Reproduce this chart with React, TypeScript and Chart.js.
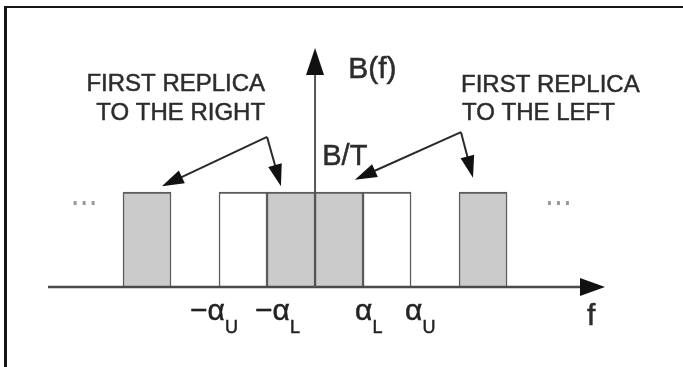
import React, { useEffect, useRef } from 'react';
import { Chart, registerables } from 'chart.js';

Chart.register(...registerables);

// Spectral bands: centre frequency (in band widths), height (B/T = 1) and whether the band is a replica
const bandCenters = [-3.5, -1.5, -0.5, 0.5, 1.5, 3.5];
const bandHeights = [1, 1, 1, 1, 1, 1];
const bandShaded = [true, false, true, true, false, true];

// Band-edge labels on the frequency axis
const edgeValues = [-2, -1, 1, 2];
const edgeSymbols = ['\u2212\u03b1', '\u2212\u03b1', '\u03b1', '\u03b1'];
const edgeSubscripts = ['U', 'L', 'L', 'U'];

const axisTitleX = 'f';
const axisTitleY = 'B(f)';
const levelLabel = 'B/T';
const calloutRightLines = ['FIRST REPLICA', 'TO THE RIGHT'];
const calloutLeftLines = ['FIRST REPLICA', 'TO THE LEFT'];

// Callout arrows, in axis units: a shared knee and the two tips it points to
const rightCalloutKnee = [-1.0, 1.58];
const rightCalloutTips = [[-3.19, 1.06], [-0.71, 1.06]];
const leftCalloutKnee = [3.04, 1.63];
const leftCalloutTips = [[0.83, 1.13], [3.29, 1.15]];

// Horizontal placement tweaks (px) for the edge labels
const edgeLabelShift = [-29, -12, -8, -6];

const FONT = "'Liberation Sans', Arial, Helvetica, sans-serif";
const TEXT = '#2c2c2c';

type Pt = [number, number];

function arrowHead(ctx: CanvasRenderingContext2D, from: Pt, tip: Pt, len: number, half: number) {
  const dx = tip[0] - from[0];
  const dy = tip[1] - from[1];
  const d = Math.hypot(dx, dy) || 1;
  const ux = dx / d;
  const uy = dy / d;
  const bx = tip[0] - ux * len;
  const by = tip[1] - uy * len;
  ctx.beginPath();
  ctx.moveTo(tip[0], tip[1]);
  ctx.lineTo(bx - uy * half, by + ux * half);
  ctx.lineTo(bx + uy * half, by - ux * half);
  ctx.closePath();
  ctx.fill();
}

function arrow(ctx: CanvasRenderingContext2D, from: Pt, tip: Pt, len: number, half: number) {
  const dx = tip[0] - from[0];
  const dy = tip[1] - from[1];
  const d = Math.hypot(dx, dy) || 1;
  const bx = tip[0] - (dx / d) * (len - 2);
  const by = tip[1] - (dy / d) * (len - 2);
  ctx.beginPath();
  ctx.moveTo(from[0], from[1]);
  ctx.lineTo(bx, by);
  ctx.stroke();
  arrowHead(ctx, from, tip, len, half);
}

function label(
  ctx: CanvasRenderingContext2D,
  str: string,
  x: number,
  y: number,
  size: number,
  align: CanvasTextAlign = 'left',
  color = TEXT
) {
  ctx.font = `${size}px ${FONT}`;
  ctx.textAlign = align;
  ctx.textBaseline = 'alphabetic';
  ctx.fillStyle = color;
  ctx.fillText(str, x, y);
  // slight stroke gives the heavier, scanned-print look of the lettering
  ctx.strokeStyle = color;
  ctx.lineWidth = 0.5;
  ctx.strokeText(str, x, y);
}

const diagramPlugin = {
  id: 'spectrumDiagram',
  afterDatasetsDraw(chart: any) {
    const { ctx, chartArea: a, scales } = chart;
    const X = (v: number) => scales.x.getPixelForValue(v);
    const Y = (v: number) => scales.y.getPixelForValue(v);
    const x0 = X(0);
    const y0 = Y(0);

    ctx.save();

    // frequency axis with arrow
    ctx.strokeStyle = '#4a4a4a';
    ctx.fillStyle = '#111111';
    ctx.lineWidth = 2.5;
    ctx.beginPath();
    ctx.moveTo(a.left, y0);
    ctx.lineTo(a.right - 20, y0);
    ctx.stroke();
    arrowHead(ctx, [a.left, y0], [a.right, y0], 25, 9);

    // amplitude axis with arrow
    ctx.strokeStyle = '#555555';
    ctx.lineWidth = 2;
    ctx.beginPath();
    ctx.moveTo(x0, y0);
    ctx.lineTo(x0, a.top + 20);
    ctx.stroke();
    arrowHead(ctx, [x0, y0], [x0, a.top], 27, 9);

    // callout arrows
    ctx.strokeStyle = '#2a2a2a';
    ctx.fillStyle = '#111111';
    ctx.lineWidth = 2;
    const knees: Pt[] = [
      [X(rightCalloutKnee[0]), Y(rightCalloutKnee[1])],
      [X(leftCalloutKnee[0]), Y(leftCalloutKnee[1])],
    ];
    rightCalloutTips.forEach((t) => arrow(ctx, knees[0], [X(t[0]), Y(t[1])], 22, 7));
    leftCalloutTips.forEach((t) => arrow(ctx, knees[1], [X(t[0]), Y(t[1])], 22, 7));

    // callout text
    label(ctx, calloutRightLines[0], X(-1.04), Y(2.063), 24, 'right');
    label(ctx, calloutRightLines[1], X(-1.04), Y(1.758), 24, 'right');
    label(ctx, calloutLeftLines[0], X(3.04), Y(2.053), 24, 'left');
    label(ctx, calloutLeftLines[1], X(3.06), Y(1.758), 24, 'left');

    // axis titles and level
    label(ctx, axisTitleY, X(0.69), Y(2.2), 30);
    label(ctx, levelLabel, X(0.15), Y(1.284), 29);
    label(ctx, axisTitleX, a.right - 18, y0 + 38, 30);

    // band-edge labels with subscripts
    edgeValues.forEach((v, i) => {
      const px = X(v) + edgeLabelShift[i];
      ctx.font = `30px ${FONT}`;
      const w = ctx.measureText(edgeSymbols[i]).width;
      label(ctx, edgeSymbols[i], px, y0 + 33, 30, 'left', '#222222');
      label(ctx, edgeSubscripts[i], px + w, y0 + 46, 18, 'left', '#222222');
    });

    // continuation dots on both sides
    ctx.fillStyle = '#9a9a9a';
    [-4.81, 5.07].forEach((c) => {
      const cx = X(c);
      const cy = Y(0.884);
      [-9, 0, 9].forEach((o) => ctx.fillRect(cx + o - 1.5, cy - 2, 3, 4));
    });

    ctx.restore();
  },
  afterDraw(chart: any) {
    const { ctx, width, height } = chart;
    ctx.save();
    ctx.strokeStyle = '#151515';
    ctx.lineWidth = 3;
    ctx.beginPath();
    ctx.moveTo(5.5, height);
    ctx.lineTo(5.5, 7);
    ctx.stroke();
    ctx.lineWidth = 2;
    ctx.beginPath();
    ctx.moveTo(4, 7);
    ctx.lineTo(width, 7);
    ctx.stroke();
    ctx.restore();
  },
};

export default function App() {
  const ref = useRef<HTMLCanvasElement | null>(null);

  useEffect(() => {
    if (!ref.current) return;
    const chart = new Chart(ref.current, {
      type: 'bar',
      data: {
        datasets: [
          {
            data: bandCenters.map((c, i) => ({ x: c, y: bandHeights[i] })),
            backgroundColor: bandShaded.map((s) => (s ? '#cbcbcb' : '#ffffff')),
            borderColor: '#5c5c5c',
            borderWidth: { top: 2, left: 1.5, right: 1.5, bottom: 0 },
            borderSkipped: 'start',
            barPercentage: 1,
            categoryPercentage: 1,
          } as any,
        ],
      },
      options: {
        responsive: false,
        animation: false,
        devicePixelRatio: 1,
        layout: { padding: { left: 48, right: 78, top: 48, bottom: 80 } },
        plugins: { legend: { display: false }, tooltip: { enabled: false } },
        scales: {
          x: {
            type: 'linear',
            offset: false,
            min: -5.5625,
            max: 6.04,
            display: false,
            afterBuildTicks: (axis: any) => {
              axis.ticks = axis.ticks.filter((t: any) => Number.isInteger(t.value));
            },
          },
          y: { min: 0, max: 2.516, display: false },
        },
      },
      plugins: [diagramPlugin],
    });
    return () => chart.destroy();
  }, []);

  return (
    <div style={{ position: 'fixed', left: 0, top: 0, width: 683, height: 367, background: '#ffffff' }}>
      <canvas ref={ref} width={683} height={367} style={{ display: 'block' }} />
    </div>
  );
}
